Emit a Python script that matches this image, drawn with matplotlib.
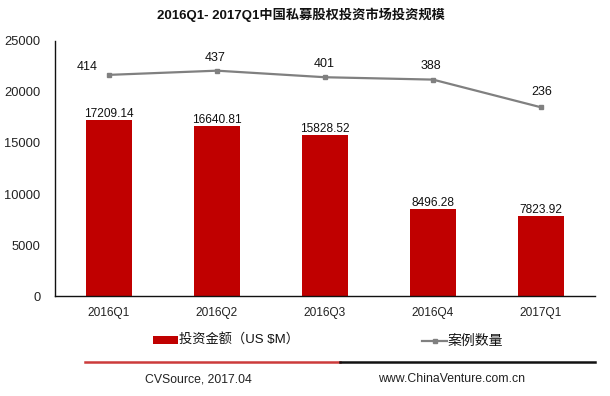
import matplotlib.pyplot as plt
import numpy as np
from matplotlib.lines import Line2D
from matplotlib.patches import Rectangle

QUARTERS = ["2016Q1", "2016Q2", "2016Q3", "2016Q4", "2017Q1"]
AMOUNT = [17209.14, 16640.81, 15828.52, 8496.28, 7823.92]
DEALS = [414, 437, 401, 388, 236]
Y_TICKS = [0, 5000, 10000, 15000, 20000, 25000]

BAR_COLOR = "#c00000"
LINE_COLOR = "#808080"
FONTS = ["Liberation Sans", "Noto Sans CJK SC"]

# label offsets (pixels) for deal counts, as placed in the original
DEAL_LABEL_OFFSETS = [(-22, 8), (-2, 13), (-1, 13), (-2, 14), (1, 15)]

plt.rcParams["font.family"] = FONTS

fig = plt.figure(figsize=(6.1, 3.96), dpi=100)
fig.patch.set_facecolor("white")
ax = fig.add_axes([0.0902, 0.2525, 0.8852, 0.644])

x = np.arange(len(QUARTERS))
bars = ax.bar(x, AMOUNT, width=0.42, color=BAR_COLOR, zorder=2)
for bar, v in zip(bars, AMOUNT):
    ax.annotate(f"{v:.2f}", (bar.get_x() + bar.get_width() / 2, v),
                xytext=(0, 0), textcoords="offset points",
                ha="center", va="bottom", fontsize=8.6, color="#111111")

ax.set_xlim(-0.5, len(QUARTERS) - 0.5)
ax.set_ylim(0, 25000)
ax.set_yticks(Y_TICKS)
ax.set_xticks(x)
ax.set_xticklabels(QUARTERS)
ax.tick_params(axis="both", length=0, colors="#222222")
ax.tick_params(axis="y", pad=10.5, labelsize=9.3)
ax.tick_params(axis="x", pad=8, labelsize=8.6)
for side in ("top", "right"):
    ax.spines[side].set_visible(False)
for side in ("left", "bottom"):
    ax.spines[side].set_color("#111111")
    ax.spines[side].set_linewidth(1.0)

ax2 = ax.twinx()
ax2.plot(x, DEALS, color=LINE_COLOR, linewidth=1.6, marker="s",
         markersize=3, markerfacecolor=LINE_COLOR, markeredgecolor=LINE_COLOR, zorder=3)
ax2.set_ylim(-800, 600)
ax2.axis("off")
for xi, v, off in zip(x, DEALS, DEAL_LABEL_OFFSETS):
    ax2.annotate(str(v), (xi, v), xytext=off, textcoords="offset pixels",
                 ha="center", va="center", fontsize=9, color="#111111")

fig.text(0.494, 0.962, "2016Q1- 2017Q1中国私募股权投资市场投资规模",
         ha="center", va="center", fontsize=9.5, fontweight="bold", color="#111111")

# legend
fig.add_artist(Rectangle((153 / 610, 1 - 344 / 396), 25 / 610, 8 / 396,
                         transform=fig.transFigure, facecolor=BAR_COLOR, edgecolor="none"))
fig.text(179 / 610, 1 - 340 / 396, "投资金额（US $M）", ha="left", va="center",
         fontsize=9.5, color="#111111")
fig.add_artist(Line2D([422 / 610, 447 / 610], [1 - 341 / 396, 1 - 341 / 396],
                      transform=fig.transFigure, color=LINE_COLOR, linewidth=1.6))
fig.add_artist(Line2D([434.5 / 610], [1 - 341 / 396], transform=fig.transFigure,
                      marker="s", markersize=3, color=LINE_COLOR, linestyle="none"))
fig.text(448 / 610, 1 - 341 / 396, "案例数量", ha="left", va="center",
         fontsize=10, color="#111111")

# footer
fig.add_artist(Line2D([85 / 610, 340 / 610], [1 - 362 / 396, 1 - 362 / 396],
                      transform=fig.transFigure, color="#cc3b3b", linewidth=1.8))
fig.add_artist(Line2D([340 / 610, 595 / 610], [1 - 362 / 396, 1 - 362 / 396],
                      transform=fig.transFigure, color="#111111", linewidth=1.8))
fig.text(198 / 610, 1 - 379 / 396, "CVSource, 2017.04", ha="center", va="center",
         fontsize=8.8, color="#222222")
fig.text(452 / 610, 1 - 379 / 396, "www.ChinaVenture.com.cn", ha="center", va="center",
         fontsize=8.8, color="#222222")

fig.savefig("out.png", dpi=100, facecolor="white")
